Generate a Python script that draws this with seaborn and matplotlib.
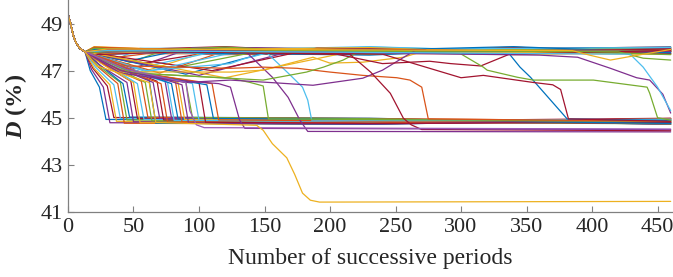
import pandas as pd
import numpy as np
import matplotlib
matplotlib.use('Agg')
import matplotlib.pyplot as plt
import seaborn as sns

# MATLAB default colour order
matlab_colors = ['#0072BD', '#D95319', '#EDB120', '#7E2F8E', '#77AC30', '#4DBEEE', '#A2142F']

# common initial decay
start_x = [0, 2, 4, 6, 9, 13]
start_y = [49.4, 49.0, 48.5, 48.2, 47.95, 47.8]

# lines that stay in the upper band (level near x=20, x=120, x=230, x=340, x=460)
upper_a = [47.9, 47.7, 47.98, 47.72, 47.85, 48.02, 47.66, 47.92, 47.8, 47.88, 47.75, 47.96, 47.7, 47.86, 48.0, 47.78, 47.9, 47.83, 47.95, 47.68]
upper_q = [47.76, 47.98, 47.7, 47.9, 48.02, 47.8, 47.88, 47.68, 47.94, 47.74, 47.99, 47.84, 47.92, 47.7, 47.82, 48.0, 47.72, 47.9, 47.78, 47.86]
upper_m = [47.84, 47.9, 47.7, 47.96, 47.72, 47.88, 48.02, 47.78, 47.9, 47.66, 47.86, 47.74, 47.95, 48.0, 47.8, 47.7, 47.87, 47.98, 47.82, 47.92]
upper_t = [47.95, 47.72, 47.88, 47.78, 47.94, 47.68, 47.82, 48.0, 47.74, 47.92, 47.7, 47.97, 47.8, 47.86, 47.72, 47.9, 48.02, 47.76, 47.88, 47.82]
upper_b = [47.8, 47.92, 47.72, 47.9, 48.0, 47.82, 47.88, 47.7, 47.96, 47.8, 47.9, 47.84, 47.94, 47.74, 47.83, 47.98, 47.76, 47.88, 47.68, 47.92]

# lines that dip then climb back into the upper band
rise_dip_x = [25, 30, 35, 40, 45, 50, 55, 60, 65, 70, 80, 90, 100, 110, 120, 60]
rise_dip_y = [47.45, 47.3, 47.55, 47.2, 47.4, 47.1, 47.3, 47.0, 47.25, 46.9, 47.1, 46.85, 46.8, 47.0, 46.7, 46.95]
rise_end_x = [45, 55, 60, 75, 80, 95, 100, 110, 115, 125, 140, 160, 170, 190, 210, 135]
rise_lvl = [47.86, 47.95, 47.72, 47.9, 47.8, 47.98, 47.7, 47.88, 47.84, 47.93, 47.76, 47.9, 47.82, 47.96, 47.74, 47.88]

# lines that fall into the lower band
drop_x = [24, 27, 30, 32, 35, 38, 40, 42, 45, 48, 50, 53, 56, 59, 62, 65, 68, 71, 74, 76, 79, 82, 84, 87, 90, 95, 100, 106, 110]
drop_knee_x = [17, 18, 19, 20, 21, 22, 23, 24, 25, 26, 27, 28, 30, 30, 32, 34, 35, 36, 38, 40, 40, 42, 44, 45, 46, 48, 50, 52, 55]
drop_knee_y = [47.0, 47.05, 47.1, 47.1, 47.15, 47.2, 47.2, 47.25, 47.2, 47.3, 47.25, 47.3, 47.2, 47.3, 47.25, 47.2, 47.3, 47.15, 47.25, 47.1, 47.2, 47.15, 47.05, 47.1, 47.0, 47.05, 46.95, 46.9, 46.9]
drop_pre_y = [46.3, 46.3, 46.35, 46.4, 46.4, 46.45, 46.5, 46.45, 46.5, 46.55, 46.5, 46.45, 46.55, 46.5, 46.6, 46.5, 46.55, 46.45, 46.6, 46.5, 46.45, 46.55, 46.5, 46.4, 46.5, 46.45, 46.5, 46.4, 46.45]
drop_mid_y = [44.88, 44.74, 44.96, 44.8, 44.92, 44.72, 44.86, 44.98, 44.78, 44.92, 44.74, 44.88, 44.97, 44.82, 44.72, 44.92, 44.86, 44.76, 44.95, 44.84, 44.9, 44.78, 44.88, 44.73, 44.96, 44.84, 44.76, 44.92, 44.86]
drop_end_y = [44.8, 44.95, 44.74, 44.9, 44.78, 44.97, 44.82, 44.72, 44.92, 44.8, 44.96, 44.76, 44.86, 44.74, 44.94, 44.8, 44.98, 44.86, 44.72, 44.92, 44.78, 44.96, 44.82, 44.9, 44.74, 44.94, 44.8, 44.76, 44.88]

# individual wandering runs
light_blue_x = [13, 60, 124, 134, 152, 168, 179, 183, 186, 460]
light_blue_y = [47.8, 47.0, 47.3, 47.5, 47.75, 46.9, 46.3, 45.75, 44.9, 44.88]
purple_b_x = [13, 30, 135, 137, 156, 168, 177, 183, 460]
purple_b_y = [47.8, 47.85, 47.8, 47.74, 46.72, 45.87, 44.9, 44.42, 44.4]
green_a_x = [13, 50, 124, 139, 149, 153, 460]
green_a_y = [47.8, 46.9, 46.68, 46.5, 46.35, 44.95, 44.85]
yellow_a_x = [13, 40, 124, 149, 187, 200, 225, 256, 274, 460]
yellow_a_y = [47.8, 46.95, 46.94, 47.02, 47.57, 47.32, 47.36, 47.57, 47.87, 47.85]
orange_x = [13, 45, 124, 149, 175, 200, 225, 251, 261, 270, 275, 460]
orange_y = [47.8, 47.2, 47.1, 47.15, 47.1, 46.94, 46.8, 46.7, 46.6, 46.3, 44.95, 44.85]
green_b_x = [13, 50, 149, 182, 195, 210, 222, 460]
green_b_y = [47.8, 46.9, 46.6, 46.94, 47.15, 47.45, 47.8, 47.85]
purple_r_x = [13, 40, 90, 124, 162, 187, 225, 240, 259, 265, 460]
purple_r_y = [47.8, 46.9, 46.5, 46.6, 46.47, 46.38, 46.68, 47.02, 47.66, 47.85, 47.82]
dred_fall_x = [13, 30, 215, 231, 246, 256, 262, 270, 460]
dred_fall_y = [47.8, 47.85, 47.7, 46.94, 46.04, 44.98, 44.7, 44.5, 44.45]
dred_up_x = [13, 30, 205, 240, 276, 292, 315, 337, 460]
dred_up_y = [47.8, 47.85, 47.7, 47.3, 47.4, 47.3, 47.2, 47.7, 47.86]
blue_fall_x = [13, 30, 337, 345, 353, 381, 460]
blue_fall_y = [47.8, 47.88, 47.7, 47.15, 46.72, 44.95, 44.88]
dred_low_x = [13, 30, 240, 276, 300, 317, 355, 370, 376, 382, 460]
dred_low_y = [47.8, 47.9, 47.7, 47.1, 46.7, 46.8, 46.5, 46.4, 46.2, 44.95, 44.85]
green_c_x = [13, 30, 299, 317, 320, 343, 355, 401, 442, 444, 450, 460]
green_c_y = [47.8, 47.85, 47.74, 47.15, 47.02, 46.72, 46.6, 46.6, 46.3, 46.04, 45.0, 44.9]
green_d_x = [13, 30, 420, 439, 460]
green_d_y = [47.8, 47.9, 47.8, 47.53, 47.45]
purple_end_x = [13, 30, 360, 389, 414, 434, 444, 454, 460]
purple_end_y = [47.8, 47.9, 47.66, 47.57, 47.1, 46.7, 46.6, 46.0, 45.2]
lblue_end_x = [13, 30, 429, 439, 450, 460]
lblue_end_y = [47.8, 47.85, 47.7, 47.15, 46.3, 45.3]
yellow_dip_x = [13, 30, 385, 398, 414, 429, 460]
yellow_dip_y = [47.8, 47.92, 47.85, 47.66, 47.45, 47.6, 47.9]
purple_a_x = [13, 40, 80, 115, 124, 131, 135, 460]
purple_a_y = [47.8, 47.0, 46.6, 46.45, 46.3, 44.9, 44.55, 44.5]
purple_c_x = [13, 45, 90, 93, 98, 104, 460]
purple_c_y = [47.8, 47.05, 46.5, 45.3, 44.7, 44.58, 44.52]
yellow_low_x = [13, 22, 62, 67, 144, 149, 156, 167, 173, 179, 185, 192, 460]
yellow_low_y = [47.8, 47.2, 46.5, 44.8, 44.68, 44.47, 43.9, 43.3, 42.6, 41.8, 41.5, 41.42, 41.45]

runs = []
colors = {}
k = 0


def add_run(xs, ys, color=None):
    global k
    name = f'r{len(runs)}'
    runs.append(pd.DataFrame({'x': xs, 'y': ys, 'run': name}))
    if color is None:
        color = matlab_colors[k % 7]
        k += 1
    colors[name] = color


# generic runs, interleaved like a simulation batch
for i in range(len(drop_x)):
    add_run(start_x + [drop_knee_x[i], drop_x[i], drop_x[i] + 5, 230, 460],
            start_y + [drop_knee_y[i], drop_pre_y[i], drop_mid_y[i] + 0.05, drop_mid_y[i], drop_end_y[i]])
    if i < len(upper_a):
        add_run(start_x + [20, 120, 230, 340, 460],
                start_y + [upper_a[i], upper_q[i], upper_m[i], upper_t[i], upper_b[i]])
    if i < len(rise_dip_x):
        add_run(start_x + [rise_dip_x[i], rise_end_x[i], 460],
                start_y + [rise_dip_y[i], rise_lvl[i], upper_b[i]])

add_run(start_x[:-1] + light_blue_x, start_y[:-1] + light_blue_y, '#4DBEEE')
add_run(start_x[:-1] + purple_b_x, start_y[:-1] + purple_b_y, '#7E2F8E')
add_run(start_x[:-1] + green_a_x, start_y[:-1] + green_a_y, '#77AC30')
add_run(start_x[:-1] + yellow_a_x, start_y[:-1] + yellow_a_y, '#EDB120')
add_run(start_x[:-1] + orange_x, start_y[:-1] + orange_y, '#D95319')
add_run(start_x[:-1] + green_b_x, start_y[:-1] + green_b_y, '#77AC30')
add_run(start_x[:-1] + purple_r_x, start_y[:-1] + purple_r_y, '#7E2F8E')
add_run(start_x[:-1] + dred_fall_x, start_y[:-1] + dred_fall_y, '#A2142F')
add_run(start_x[:-1] + dred_up_x, start_y[:-1] + dred_up_y, '#A2142F')
add_run(start_x[:-1] + blue_fall_x, start_y[:-1] + blue_fall_y, '#0072BD')
add_run(start_x[:-1] + dred_low_x, start_y[:-1] + dred_low_y, '#A2142F')
add_run(start_x[:-1] + green_c_x, start_y[:-1] + green_c_y, '#77AC30')
add_run(start_x[:-1] + green_d_x, start_y[:-1] + green_d_y, '#77AC30')
add_run(start_x[:-1] + purple_end_x, start_y[:-1] + purple_end_y, '#7E2F8E')
add_run(start_x[:-1] + lblue_end_x, start_y[:-1] + lblue_end_y, '#4DBEEE')
add_run(start_x[:-1] + yellow_dip_x, start_y[:-1] + yellow_dip_y, '#EDB120')
add_run(start_x[:-1] + purple_a_x, start_y[:-1] + purple_a_y, '#7E2F8E')
add_run(start_x[:-1] + purple_c_x, start_y[:-1] + purple_c_y, '#9B59B6')
add_run(start_x[:-1] + yellow_low_x, start_y[:-1] + yellow_low_y, '#EDB120')

df = pd.concat(runs, ignore_index=True)

sns.set_style('ticks')
plt.rcParams['font.family'] = ['Liberation Serif', 'DejaVu Serif']
plt.rcParams['mathtext.fontset'] = 'custom'
plt.rcParams['mathtext.rm'] = 'Liberation Serif'
plt.rcParams['mathtext.it'] = 'Liberation Serif:italic'
plt.rcParams['mathtext.bf'] = 'Liberation Serif:bold'
plt.rcParams['mathtext.bfit'] = 'Liberation Serif:italic:bold'

fig = plt.figure(figsize=(6.73, 2.77), dpi=100)
ax = fig.add_axes([0.101, 0.2347, 0.8975, 0.7653])

sns.lineplot(data=df, x='x', y='y', hue='run', palette=colors, legend=False,
             estimator=None, sort=False, linewidth=0.9, ax=ax)

ax.set_xlim(0, 461)
ax.set_ylim(41, 50)
ax.set_xticks([0, 50, 100, 150, 200, 250, 300, 350, 400, 450])
ax.set_yticks([41, 43, 45, 47, 49])
ax.tick_params(direction='in', length=4, width=0.8, color='#808080', labelsize=16, pad=4)
ax.tick_params(axis='y', pad=4)
for s in ['top', 'right']:
    ax.spines[s].set_visible(False)
for s in ['left', 'bottom']:
    ax.spines[s].set_color('#808080')
    ax.spines[s].set_linewidth(0.9)

ax.set_xlabel('Number of successive periods', fontsize=17, labelpad=8)
ax.set_ylabel(r'$\mathbfit{D}$ (%)', fontsize=17.5, fontweight='bold', labelpad=8)

fig.savefig('out.png', dpi=100)
